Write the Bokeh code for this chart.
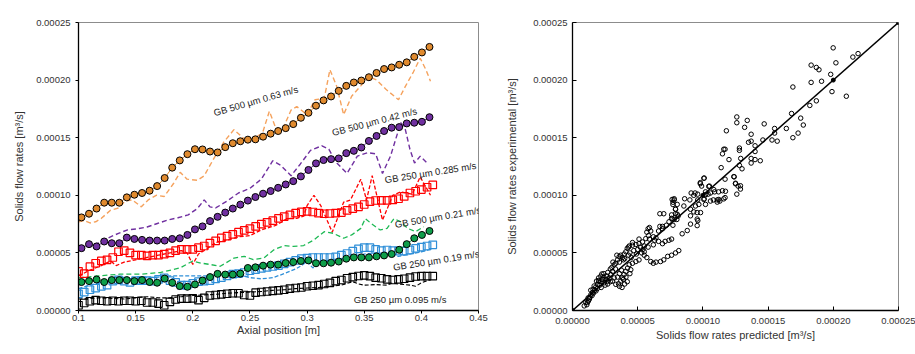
from bokeh.plotting import figure
from bokeh.layouts import row
from bokeh.models import Range1d, FixedTicker, CustomJSTickFormatter
from bokeh.core.properties import value
from bokeh.embed import file_html
from bokeh.resources import INLINE

SCALE = 1e-5  # values below are in 1e-5 m3/s

# ---------------- left chart data ----------------
x_circ = [0.1026, 0.1092, 0.1158, 0.1225, 0.1291, 0.1357, 0.1423, 0.1489, 0.1556, 0.1622,
          0.1688, 0.1754, 0.1820, 0.1886, 0.1953, 0.2019, 0.2085, 0.2151, 0.2217, 0.2284,
          0.2350, 0.2416, 0.2482, 0.2548, 0.2615, 0.2681, 0.2747, 0.2813, 0.2879, 0.2946,
          0.3012, 0.3078, 0.3144, 0.3210, 0.3277, 0.3343, 0.3409, 0.3475, 0.3541, 0.3608,
          0.3674, 0.3740, 0.3806, 0.3872, 0.3938, 0.4005, 0.4071]
gb500_063 = [8.08, 8.4, 8.85, 9.36, 9.36, 9.36, 9.82, 10.05, 10.2, 10.4, 10.8, 11.5, 12.4, 13.03,
             13.57, 14.0, 13.98, 13.8, 13.72, 14.18, 14.52, 14.69, 14.83, 14.86, 15.09, 15.35,
             15.58, 15.83, 16.18, 16.73, 17.16, 17.78, 18.24, 18.58, 19.07, 19.5, 19.79, 19.96,
             20.25, 20.62, 20.96, 21.1, 21.33, 21.54, 22.02, 22.4, 22.88]
gb500_042 = [5.41, 5.76, 5.56, 5.99, 5.84, 5.84, 6.33, 6.21, 6.13, 6.07, 6.07, 6.07, 6.21, 6.27,
             6.56, 7.04, 7.3, 7.76, 8.13, 8.5, 8.85, 9.19, 9.54, 9.85, 10.14, 10.37, 10.65, 10.94,
             11.23, 11.64, 12.2, 12.77, 13.06, 13.14, 13.2, 13.66, 13.86, 14.15, 14.72, 15.15,
             15.58, 15.87, 15.92, 16.24, 16.3, 16.38, 16.78]
gb500_021 = [2.47, 2.55, 2.69, 2.47, 2.64, 2.64, 2.64, 2.55, 2.64, 2.47, 2.41, 2.77, 2.41, 2.12,
             2.06, 2.26, 2.6, 2.9, 3.18, 3.12, 3.12, 3.2, 3.69, 3.75, 3.89, 3.98, 3.98, 4.12, 4.2,
             4.3, 4.35, 4.1, 4.1, 4.15, 4.25, 4.5, 4.61, 4.61, 4.61, 4.7, 4.78, 4.9, 5.27, 5.76,
             6.27, 6.56, 6.9]

x_sq = [0.100, 0.105, 0.110, 0.115, 0.120, 0.125, 0.130, 0.135, 0.140, 0.145, 0.150, 0.155,
        0.160, 0.165, 0.170, 0.175, 0.180, 0.185, 0.190, 0.195, 0.200, 0.205, 0.210, 0.215,
        0.220, 0.225, 0.230, 0.235, 0.240, 0.245, 0.250, 0.255, 0.260, 0.265, 0.270, 0.275,
        0.280, 0.285, 0.290, 0.295, 0.300, 0.305, 0.310, 0.315, 0.320, 0.325, 0.330, 0.335,
        0.340, 0.345, 0.350, 0.355, 0.360, 0.365, 0.370, 0.375, 0.380, 0.385, 0.390, 0.395,
        0.400, 0.405, 0.410]
gb250_0285 = [3.4, 3.2, 3.8, 4.1, 4.3, 4.4, 4.6, 5.1, 5.2, 5.0, 4.8, 4.8, 4.75, 4.8, 4.8, 4.9,
              5.0, 5.2, 5.3, 5.3, 5.3, 5.45, 5.6, 5.84, 6.05, 6.3, 6.45, 6.6, 6.8, 6.95, 7.1,
              7.3, 7.5, 7.65, 7.8, 8.0, 8.15, 8.3, 8.45, 8.56, 8.6, 8.55, 8.45, 8.4, 8.42, 8.45,
              8.5, 8.7, 8.85, 9.0, 9.2, 9.45, 9.55, 9.56, 9.56, 9.6, 9.7, 9.9, 10.2, 10.35, 10.5,
              10.7, 10.9]
gb250_019 = [1.45, 1.6, 1.8, 1.95, 2.1, 2.2, 2.55, 2.65, 2.55, 2.45, 2.6, 2.6, 2.6, 2.55, 2.7,
             2.83, 2.6, 2.45, 2.2, 2.2, 2.35, 2.5, 2.55, 2.6, 2.75, 2.85, 3.0, 3.15, 3.2, 3.3,
             3.45, 3.55, 3.65, 3.75, 3.82, 3.9, 4.05, 4.2, 4.35, 4.5, 4.55, 4.6, 4.6, 4.6, 4.6,
             4.65, 4.8, 4.95, 5.15, 5.35, 5.45, 5.45, 5.3, 5.2, 5.25, 5.2, 5.15, 5.15, 5.25, 5.4,
             5.5, 5.6, 5.7]
gb250_0095 = [0.45, 0.65, 0.8, 0.9, 0.85, 0.8, 0.85, 0.8, 0.85, 0.85, 0.8, 0.85, 0.7, 0.7, 0.6,
              0.45, 0.75, 0.95, 1.03, 1.03, 1.05, 0.9, 1.1, 1.3, 1.35, 1.4, 1.45, 1.5, 1.5, 1.35,
              1.3, 1.55, 1.6, 1.65, 1.7, 1.75, 1.8, 1.9, 1.95, 2.0, 2.1, 2.15, 2.2, 2.3, 2.4, 2.55,
              2.65, 2.8, 2.9, 3.0, 3.05, 2.98, 2.85, 2.8, 2.7, 2.65, 2.7, 2.75, 2.85, 2.95, 2.98,
              2.98, 2.98]

# model (dashed) curves
m063_x = [0.100, 0.105, 0.110, 0.115, 0.120, 0.128, 0.135, 0.141, 0.147, 0.155, 0.161, 0.168,
          0.175, 0.183, 0.189, 0.195, 0.204, 0.210, 0.219, 0.227, 0.236, 0.245, 0.253, 0.261,
          0.267, 0.272, 0.278, 0.286, 0.291, 0.300, 0.307, 0.315, 0.320, 0.326, 0.332, 0.339,
          0.347, 0.354, 0.361, 0.369, 0.380, 0.386, 0.393, 0.399, 0.404, 0.408]
m063_y = [7.7, 7.8, 7.6, 7.7, 8.0, 8.7, 8.9, 9.5, 9.6, 9.0, 9.6, 10.0, 9.9, 11.0, 12.0, 11.4,
          11.3, 11.7, 13.3, 14.6, 15.7, 14.9, 14.9, 15.4, 17.3, 16.0, 15.6, 17.4, 17.7, 17.0,
          18.3, 18.4, 20.9, 19.45, 17.0, 18.6, 19.5, 20.3, 20.0, 19.2, 18.3, 19.45, 20.7, 21.9,
          20.9, 19.9]
m042_x = [0.100, 0.108, 0.117, 0.126, 0.135, 0.143, 0.152, 0.160, 0.169, 0.178, 0.187, 0.196,
          0.204, 0.210, 0.215, 0.220, 0.230, 0.240, 0.250, 0.260, 0.270, 0.277, 0.286, 0.294,
          0.303, 0.313, 0.319, 0.326, 0.335, 0.344, 0.353, 0.360, 0.366, 0.373, 0.382, 0.386,
          0.390, 0.394, 0.399, 0.405]
m042_y = [5.4, 5.6, 5.85, 6.3, 6.7, 7.0, 7.1, 7.25, 7.55, 7.85, 8.05, 8.3, 8.85, 9.6, 9.0, 8.9,
          9.5, 10.2, 10.6, 11.4, 13.0, 12.6, 11.7, 12.7, 13.9, 14.3, 14.0, 12.8, 11.9, 13.4,
          13.7, 13.6, 11.9, 13.4, 16.3, 15.7, 14.0, 12.8, 13.4, 12.8]
m0285_x = [0.100, 0.110, 0.120, 0.128, 0.133, 0.140, 0.150, 0.160, 0.170, 0.180, 0.190, 0.195,
           0.200, 0.205, 0.213, 0.220, 0.230, 0.240, 0.250, 0.260, 0.273, 0.283, 0.291, 0.297,
           0.300, 0.306, 0.312, 0.322, 0.332, 0.338, 0.347, 0.352, 0.357, 0.366, 0.375, 0.382,
           0.392, 0.399, 0.408]
m0285_y = [3.0, 3.5, 3.9, 4.3, 3.9, 4.2, 4.4, 4.6, 4.8, 5.0, 5.2, 5.0, 4.0, 4.9, 5.4, 5.9, 6.1,
           6.4, 6.5, 7.0, 7.4, 8.0, 8.0, 8.2, 9.1, 10.0, 9.1, 6.8, 9.4, 9.6, 11.4, 9.6, 11.7,
           7.85, 10.0, 10.3, 10.1, 11.6, 10.0]
m021_x = [0.100, 0.117, 0.136, 0.154, 0.172, 0.189, 0.200, 0.207, 0.216, 0.224, 0.236, 0.245,
          0.253, 0.262, 0.271, 0.280, 0.288, 0.297, 0.306, 0.315, 0.323, 0.332, 0.339, 0.347,
          0.351, 0.356, 0.364, 0.370, 0.376, 0.382, 0.388, 0.395, 0.402]
m021_y = [2.84, 3.0, 3.15, 3.15, 3.3, 3.7, 4.3, 4.12, 3.98, 3.84, 4.55, 4.7, 4.41, 4.55, 5.27,
          5.64, 5.56, 5.64, 6.13, 6.84, 6.7, 6.27, 6.56, 7.13, 7.98, 7.56, 6.99, 7.13, 7.98, 7.7,
          7.13, 6.84, 7.27]
m019_x = [0.100, 0.110, 0.120, 0.130, 0.140, 0.150, 0.160, 0.170, 0.180, 0.190, 0.200, 0.210,
          0.220, 0.230, 0.240, 0.250, 0.260, 0.270, 0.280, 0.290, 0.295, 0.300, 0.305, 0.310,
          0.320, 0.330, 0.340, 0.350, 0.360, 0.370, 0.380, 0.390, 0.400, 0.408]
m019_y = [1.9, 2.2, 2.4, 2.6, 2.8, 2.8, 2.85, 2.9, 3.0, 3.0, 3.0, 3.0, 3.05, 3.1, 3.1, 2.85,
          2.75, 2.85, 3.2, 3.6, 3.9, 4.25, 3.7, 4.0, 4.4, 4.5, 4.7, 4.9, 5.0, 4.95, 4.7, 4.9,
          5.1, 5.3]
m0095_x = [0.100, 0.110, 0.120, 0.130, 0.140, 0.150, 0.160, 0.170, 0.180, 0.190, 0.200, 0.210,
           0.220, 0.230, 0.240, 0.250, 0.260, 0.270, 0.280, 0.290, 0.300, 0.310, 0.320, 0.330,
           0.340, 0.345, 0.350, 0.360, 0.370, 0.375, 0.380, 0.390, 0.395, 0.400, 0.408]
m0095_y = [1.0, 1.05, 1.1, 1.05, 1.0, 1.1, 1.2, 1.1, 1.1, 1.2, 1.3, 1.35, 1.4, 1.5, 1.55, 1.6,
           1.65, 1.75, 1.8, 1.9, 1.95, 2.0, 2.1, 2.2, 2.5, 2.3, 2.2, 2.25, 2.2, 2.4, 2.3, 2.2,
           2.1, 2.4, 2.7]

label_text = ["GB 500 µm 0.63 m/s", "GB 500 µm 0.42 m/s", "GB 250 µm 0.285 m/s",
              "GB 500 µm 0.21 m/s", "GB 250 µm 0.19 m/s", "GB 250 µm 0.095 m/s"]
label_x = [0.2184, 0.322, 0.368, 0.3768, 0.3753, 0.3409]
label_y = [17.16, 15.44, 11.34, 7.47, 3.75, 0.94]
label_angle_deg = [16, 14.6, 9, 9.7, 9, 0]

left_xticks = [0.1, 0.15, 0.2, 0.25, 0.3, 0.35, 0.4, 0.45]
flow_ticks = [0.0, 0.00005, 0.0001, 0.00015, 0.0002, 0.00025]

# ---------------- right chart data (parity plot) ----------------
pred = [19.99, 20.2, 18.3, 18.7, 18.9, 19.8, 18.3, 19.1, 16.9, 19.9, 18.7, 18.2, 16.8, 17.5, 17.7,
        12.6, 12.6, 13.4, 13.2, 11.8, 14.7, 13.7, 15.5, 15.5, 16.4, 17.3, 16.9, 14.6, 15.3, 15.7,
        13.7, 13.5, 21.5, 21.9, 21.0,
        12.8, 12.8, 14.0, 14.0, 11.6, 11.7, 11.5, 12.0, 12.9, 13.7, 14.0, 14.4, 13.7, 11.4, 13.0,
        10.1, 12.4, 11.7, 9.8,
        12.8, 12.5, 12.7, 9.8, 9.9, 10.5, 9.4, 9.6, 10.2, 10.4, 10.9, 11.2, 11.5, 11.7, 9.1, 9.3,
        9.0, 9.6, 10.1, 10.8, 11.1, 11.3, 12.6, 7.8, 8.6, 7.7,
        10.07, 12.37, 12.5, 12.88, 12.88, 11.73, 11.6, 11.22, 11.1, 10.58, 10.2, 10.07, 9.69, 9.43,
        9.3, 9.56, 9.05, 9.61, 10.2, 10.58, 10.84, 10.45,
        7.8, 7.7, 7.9, 6.7, 7.0, 7.6, 7.9, 8.1, 7.6, 7.8, 8.0, 7.4, 7.2, 6.9, 6.7, 7.7, 6.6, 5.8,
        6.0, 6.9, 6.2, 5.9, 6.3, 6.6, 6.9, 7.1, 7.4, 7.6,
        8.54, 9.05, 9.56, 9.82, 8.03, 7.64, 8.8, 8.41, 9.56, 9.05, 8.03, 7.64, 7.9,
        5.3, 5.7, 6.0, 6.4, 6.75, 7.0, 7.3, 7.6, 7.9, 8.15, 6.2, 5.5,
        4.2, 4.35, 4.6, 4.86, 5.1, 5.37, 5.62, 5.83, 4.4, 4.7, 5.0, 5.2, 5.5, 4.5, 4.9, 5.4, 4.0,
        4.3, 3.96, 4.09, 4.6, 4.3, 5.1, 5.7, 5.9, 5.5, 5.8, 6.2, 6.4,
        3.07, 3.02, 3.2, 3.32, 3.45, 3.58, 3.4, 3.7, 3.83, 3.3, 3.6, 3.9, 2.9, 3.1,
        3.07, 3.2, 3.32, 3.53, 3.7, 3.83, 3.96, 4.09, 4.22, 4.35, 4.47, 4.6, 4.86, 5.1, 3.6, 3.8,
        4.0, 4.2, 3.9, 4.1, 4.4, 3.45, 3.6, 3.75,
        1.02, 1.1, 1.23, 1.33, 1.4, 1.53, 1.58, 1.4, 1.71, 1.79, 1.92, 2.04, 2.0, 2.17, 2.25,
        1.84, 1.66, 2.3, 2.43, 2.56, 2.68, 2.81, 2.94, 0.9, 1.2, 1.5, 1.6, 1.9, 2.1, 2.2, 2.4,
        2.6, 2.7, 2.5, 2.9, 2.2, 1.8, 2.7, 2.4, 2.0, 1.3, 1.15]
expt = [22.8, 21.5, 21.3, 21.1, 20.9, 20.5, 19.8, 19.9, 19.4, 19.0, 18.2, 17.8, 17.1, 16.7, 16.1,
        16.8, 16.3, 16.5, 15.9, 15.6, 16.2, 15.3, 15.8, 15.4, 15.8, 15.4, 15.0, 14.8, 14.8, 14.7,
        14.7, 14.6, 22.0, 22.3, 18.6,
        14.1, 13.9, 14.3, 13.8, 14.0, 14.0, 13.6, 13.1, 13.2, 13.2, 13.1, 13.0, 12.8, 12.4, 12.3,
        11.5, 11.6, 11.4, 11.1,
        12.6, 11.0, 10.8, 11.0, 10.8, 10.8, 10.2, 10.1, 10.3, 10.1, 10.3, 10.3, 10.4, 9.8, 10.2,
        10.0, 9.6, 9.6, 9.7, 9.6, 9.6, 9.5, 10.1, 9.7, 9.7, 9.4,
        11.48, 11.62, 11.05, 10.83, 10.54, 10.35, 9.69, 9.64, 9.41, 9.5, 9.21, 9.64, 9.21, 9.07,
        8.56, 8.5, 7.5, 7.8, 10.06, 10.2, 10.49, 10.77,
        9.6, 9.2, 8.8, 8.4, 8.4, 8.3, 8.4, 8.2, 8.0, 7.9, 7.9, 7.7, 7.4, 7.3, 7.3, 7.4, 6.9, 7.1,
        6.9, 7.1, 6.4, 6.2, 6.1, 6.0, 5.8, 6.0, 6.1, 6.2,
        9.07, 8.22, 7.94, 8.5, 8.36, 7.94, 6.94, 6.66, 7.37, 8.79, 9.21, 9.64, 8.79,
        5.0, 4.6, 4.25, 4.2, 4.25, 4.4, 4.7, 4.8, 5.0, 5.2, 4.1, 4.8,
        5.4, 5.6, 5.67, 5.73, 5.8, 5.95, 6.24, 6.5, 5.0, 5.2, 5.3, 5.5, 5.6, 4.6, 4.9, 5.3, 4.5,
        4.8, 4.9, 5.1, 5.9, 5.5, 6.2, 6.8, 7.2, 5.1, 5.5, 5.7, 6.3,
        3.4, 3.74, 3.97, 4.1, 4.39, 4.68, 4.8, 4.8, 4.6, 3.6, 4.2, 4.4, 3.6, 4.2,
        2.55, 2.83, 2.27, 2.32, 2.55, 2.83, 3.12, 3.4, 3.68, 3.97, 3.54, 4.1, 4.25, 4.39, 2.1,
        2.0, 2.3, 2.5, 2.7, 2.9, 3.2, 2.9, 3.2, 3.5,
        0.71, 0.5, 0.85, 1.13, 1.36, 1.56, 1.84, 1.76, 1.76, 2.04, 2.27, 2.55, 2.83, 2.98, 3.17,
        2.55, 2.13, 2.7, 2.41, 2.7, 2.55, 2.83, 3.12, 0.4, 1.1, 1.3, 1.5, 1.9, 2.2, 2.5, 2.9,
        3.0, 2.3, 2.2, 2.5, 2.0, 1.7, 3.3, 3.2, 2.6, 1.0, 0.7]
parity_line = [0.0, 25.0]
parity_marks = [0.0, 10.0, 20.0, 25.0]

FONT = "Liberation Sans"


def sc(vals):
    return [v * SCALE for v in vals]


def style_axes(p):
    p.outline_line_color = "#8c8c8c"
    p.outline_line_width = 1
    p.xgrid.visible = False
    p.ygrid.visible = False
    for ax in (p.xaxis[0], p.yaxis[0]):
        ax.axis_line_color = "black"
        ax.axis_line_width = 1.3
        ax.major_tick_line_color = "black"
        ax.minor_tick_line_color = None
        ax.major_label_text_font = FONT
        ax.major_label_text_font_size = "9.5px"
        ax.major_label_text_color = "#333333"
        ax.axis_label_text_font = FONT
        ax.axis_label_text_font_size = "11px"
        ax.axis_label_text_font_style = "normal"
        ax.axis_label_text_color = "#333333"


fmt5 = CustomJSTickFormatter(code="return tick.toFixed(5);")
fmt_short = CustomJSTickFormatter(code="return String(Number(tick.toFixed(2)));")

# ---------------- left figure ----------------
p1 = figure(width=498, height=354, output_backend="svg", toolbar_location=None,
            x_range=Range1d(0.1, 0.45), y_range=Range1d(0, 0.00025),
            min_border_left=78, min_border_right=20, min_border_top=22, min_border_bottom=41)
style_axes(p1)
p1.xaxis.ticker = FixedTicker(ticks=left_xticks)
p1.yaxis.ticker = FixedTicker(ticks=flow_ticks)
p1.xaxis.formatter = fmt_short
p1.yaxis.formatter = fmt5
p1.xaxis.axis_label = "Axial position [m]"
p1.yaxis.axis_label = "Solids flow rates [m³/s]"
p1.xaxis.major_tick_in = 0
p1.xaxis.major_tick_out = 3
p1.yaxis.major_tick_in = 0
p1.yaxis.major_tick_out = 3
p1.xaxis.major_label_standoff = 1
p1.yaxis.major_label_standoff = 5
p1.xaxis.axis_label_standoff = 0
p1.yaxis.axis_label_standoff = 8

ORANGE_D, ORANGE_F = "#F5A25D", "#E08A2E"
PURPLE = "#7030A0"
RED = "#FF0000"
GREEN_D, GREEN_F = "#1DB954", "#0E9E4A"
BLUE = "#2F8FD8"

# dashed model curves
p1.line(m063_x, sc(m063_y), line_color=ORANGE_D, line_width=1.4, line_dash="5 3")
p1.line(m042_x, sc(m042_y), line_color=PURPLE, line_width=1.4, line_dash="5 3")
p1.line(m0285_x, sc(m0285_y), line_color=RED, line_width=1.3, line_dash="4 2")
p1.line(m021_x, sc(m021_y), line_color=GREEN_D, line_width=1.3, line_dash="5 3")
p1.line(m019_x, sc(m019_y), line_color=BLUE, line_width=1.3, line_dash="4 2")
p1.line(m0095_x, sc(m0095_y), line_color="black", line_width=1.1, line_dash="4 2")

# squares (open)
p1.scatter(x_sq, sc(gb250_0285), marker="square", size=7.5, fill_color=None,
           line_color=RED, line_width=1.2)
p1.scatter(x_sq, sc(gb250_019), marker="square", size=7.5, fill_color=None,
           line_color=BLUE, line_width=1.2)
p1.scatter(x_sq, sc(gb250_0095), marker="square", size=7.5, fill_color=None,
           line_color="black", line_width=1.1)

# circles with connecting lines
for vals, lc, fc in ((gb500_063, ORANGE_F, ORANGE_F), (gb500_042, PURPLE, PURPLE),
                     (gb500_021, GREEN_F, GREEN_F)):
    p1.line(x_circ, sc(vals), line_color=lc, line_width=1)
    p1.scatter(x_circ, sc(vals), marker="circle", size=7, fill_color=fc,
               line_color="black", line_width=1)

p1.text(x=label_x, y=sc(label_y), text=label_text,
        angle=[a * 3.14159265 / 180 for a in label_angle_deg],
        text_font=value(FONT), text_font_size="9.5px", text_color="#222222",
        text_align="left", text_baseline="alphabetic")

# ---------------- right figure ----------------
p2 = figure(width=417, height=354, output_backend="svg", toolbar_location=None,
            x_range=Range1d(0, 0.00025), y_range=Range1d(0, 0.00025),
            min_border_left=74, min_border_right=17, min_border_top=16, min_border_bottom=44)
style_axes(p2)
p2.xaxis.ticker = FixedTicker(ticks=flow_ticks)
p2.yaxis.ticker = FixedTicker(ticks=flow_ticks)
p2.xaxis.formatter = fmt5
p2.yaxis.formatter = fmt5
p2.xaxis.axis_label = "Solids flow rates predicted [m³/s]"
p2.yaxis.axis_label = "Solids flow rates experimental [m³/s]"
p2.xaxis.major_tick_in = 4
p2.xaxis.major_tick_out = 0
p2.yaxis.major_tick_in = 4
p2.yaxis.major_tick_out = 0
p2.xaxis.major_label_standoff = 7
p2.yaxis.major_label_standoff = 5
p2.xaxis.axis_label_standoff = 2
p2.yaxis.axis_label_standoff = 12

p2.line(sc(parity_line), sc(parity_line), line_color="black", line_width=1.5)
p2.scatter(sc(pred), sc(expt), marker="circle", size=4.5, fill_color=None,
           line_color="black", line_width=1)
p2.scatter(sc(parity_marks), sc(parity_marks), marker="circle", size=4,
           fill_color="black", line_color="black")

layout = row(p1, p2)
open("out.html", "w").write(file_html(layout, INLINE))
